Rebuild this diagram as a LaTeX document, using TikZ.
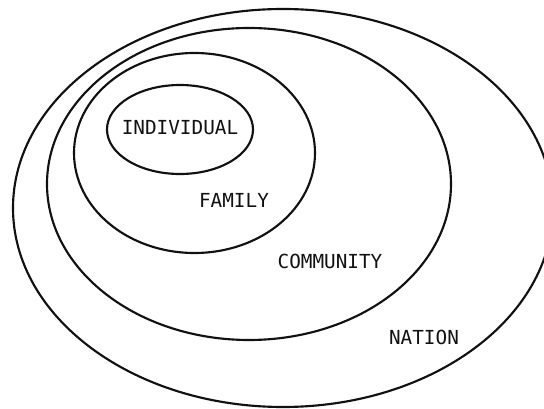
\documentclass[tikz,border=0pt]{standalone}
\usepackage{fontspec}
\usepackage{xcolor}
\usepackage{tikz}
\usetikzlibrary{shapes.geometric}
\newfontfamily\lblfont{DejaVu Sans Mono}
\definecolor{ink}{HTML}{111111}
\tikzset{
  ring/.style={draw=ink, ellipse, line width=1.6pt, inner sep=0pt},
  tag/.style={text=ink, font=\lblfont\fontsize{14.5}{15}\selectfont, inner sep=0pt}
}

\begin{document}
\begin{tikzpicture}[x=0.75pt, y=-0.75pt]
  \useasboundingbox (0,0) rectangle (544,409);
  \clip (0,0) rectangle (544,409);
  % circles, outermost first
  \node[ring, minimum width=405pt, minimum height=298.5pt] (nation) at (283,208) {};
  \node[ring, minimum width=303pt, minimum height=234pt] (community) at (249,184) {};
  \node[ring, minimum width=180.75pt, minimum height=150pt] (family) at (194.5,153) {};
  \node[ring, minimum width=109.5pt, minimum height=66.75pt] (individual) at (180,129.5) {};
  % labels
  \node[tag] (individualtag) at (180,128) {INDIVIDUAL};
  \node[tag] (familytag) at (234,200) {FAMILY};
  \node[tag] (communitytag) at (330,261) {COMMUNITY};
  \node[tag] (nationtag) at (424,337) {NATION};
\end{tikzpicture}
\end{document}
